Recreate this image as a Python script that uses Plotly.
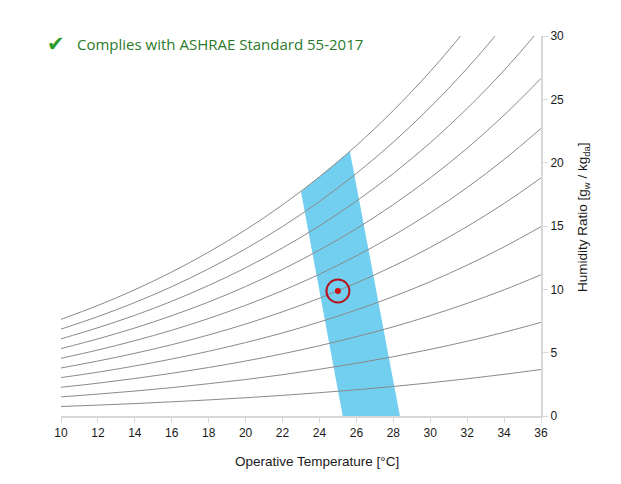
import plotly.graph_objects as go

# Operative temperature grid for the relative-humidity curves (°C)
temps = [10, 12, 14, 16, 18, 20, 22, 24, 26, 28, 30, 32, 34, 36]

# Humidity ratio (g/kg) along each relative-humidity curve
rh10 = [0.75, 0.86, 0.98, 1.12, 1.27, 1.44, 1.63, 1.84, 2.07, 2.33, 2.62, 2.94, 3.29, 3.67]
rh20 = [1.51, 1.73, 1.97, 2.24, 2.55, 2.88, 3.26, 3.69, 4.16, 4.68, 5.26, 5.90, 6.61, 7.39]
rh30 = [2.27, 2.59, 2.96, 3.37, 3.83, 4.34, 4.91, 5.55, 6.26, 7.04, 7.92, 8.89, 9.96, 11.15]
rh40 = [3.03, 3.46, 3.95, 4.50, 5.11, 5.80, 6.56, 7.42, 8.37, 9.43, 10.60, 11.91, 13.35, 14.95]
rh50 = [3.79, 4.34, 4.95, 5.63, 6.40, 7.26, 8.23, 9.30, 10.50, 11.83, 13.31, 14.96, 16.78, 18.80]
rh60 = [4.56, 5.21, 5.95, 6.77, 7.70, 8.74, 9.90, 11.19, 12.64, 14.25, 16.04, 18.04, 20.25, 22.70]
rh70 = [5.32, 6.09, 6.95, 7.92, 9.00, 10.22, 11.58, 13.10, 14.79, 16.69, 18.80, 21.14, 23.75, 26.65]
rh80 = [6.09, 6.97, 7.95, 9.06, 10.31, 11.70, 13.27, 15.01, 16.97, 19.14, 21.57, 24.28, 27.29, 30.64]
rh90 = [6.86, 7.85, 8.96, 10.21, 11.62, 13.20, 14.96, 16.94, 19.15, 21.62, 24.38, 27.45, 30.87, 34.70]
rh100 = [7.63, 8.73, 9.97, 11.37, 12.94, 14.70, 16.67, 18.88, 21.35, 24.12, 27.20, 30.65, 34.50, 38.80]
rh_curves = [rh10, rh20, rh30, rh40, rh50, rh60, rh70, rh80, rh90, rh100]

# Comfort zone polygon (operative temperature °C, humidity ratio g/kg)
zone_t = [23.0, 24.0, 25.0, 25.65, 28.36, 25.26]
zone_w = [17.71, 18.88, 20.08, 20.88, 0.0, 0.0]

# Current condition
point_t = [25.0]
point_w = [9.87]

x_ticks = [10, 12, 14, 16, 18, 20, 22, 24, 26, 28, 30, 32, 34, 36]
y_ticks = [0, 5, 10, 15, 20, 25, 30]

W, H = 621, 484
ML, MR, MT, MB = 53, 88, 28, 76

fig = go.Figure()

fig.add_trace(go.Scatter(
    x=zone_t, y=zone_w, fill="toself", mode="lines",
    line=dict(width=0, color="#73cff0"), fillcolor="#73cff0",
    hoverinfo="skip", showlegend=False))

for c in rh_curves:
    fig.add_trace(go.Scatter(
        x=temps, y=c, mode="lines", line=dict(color="#8a8a8a", width=1, shape="spline"),
        hoverinfo="skip", showlegend=False))

fig.add_trace(go.Scatter(
    x=point_t, y=point_w, mode="markers",
    marker=dict(size=23, color="rgba(0,0,0,0)", line=dict(color="#b5121b", width=2)),
    showlegend=False))
fig.add_trace(go.Scatter(
    x=point_t, y=point_w, mode="markers",
    marker=dict(size=6, color="#cc1111"),
    showlegend=False))

axis_font = dict(family="Liberation Sans, Arial, sans-serif", size=12, color="#1a1a1a")
title_font = dict(family="Liberation Sans, Arial, sans-serif", size=13.5, color="#1a1a1a")

fig.update_layout(
    width=W, height=H,
    margin=dict(l=ML, r=MR, t=MT, b=MB),
    paper_bgcolor="white", plot_bgcolor="white",
    showlegend=False,
    xaxis=dict(
        range=[10, 36], tickvals=x_ticks, showgrid=False, zeroline=False,
        showline=True, linecolor="#d8d8d8", linewidth=2,
        ticks="outside", ticklen=5, tickcolor="#d8d8d8", tickwidth=1,
        tickfont=axis_font,
    ),
    yaxis=dict(
        range=[0, 30], tickvals=y_ticks, side="right", showgrid=False, zeroline=False,
        showline=True, linecolor="#d8d8d8", linewidth=2,
        ticks="outside", ticklen=5, tickcolor="#d8d8d8", tickwidth=1,
        tickfont=axis_font,
    ),
)

# annotation positions given in figure pixels, converted to paper coordinates
pw, ph = W - ML - MR, H - MT - MB
def px(xp): return (xp - ML) / pw
def py(yp): return (H - MB - yp) / ph

fig.add_annotation(text="Operative Temperature [°C]", x=px(309), y=py(453),
                   xref="paper", yref="paper", xanchor="center", yanchor="middle",
                   showarrow=False, font=title_font)
fig.add_annotation(text="Humidity Ratio [g<sub>w</sub> / kg<sub>da</sub>]", x=px(575), y=py(210),
                   xref="paper", yref="paper", xanchor="center", yanchor="middle",
                   textangle=-90, showarrow=False, font=title_font)

fig.add_annotation(text="✔", x=px(48), y=py(36), xref="paper", yref="paper",
                   xanchor="center", yanchor="middle", showarrow=False,
                   font=dict(size=21, color="#2a9a2a", family="DejaVu Sans"))
fig.add_annotation(text="Complies with ASHRAE Standard 55-2017", x=px(67), y=py(36),
                   xref="paper", yref="paper", xanchor="left", yanchor="middle", showarrow=False,
                   font=dict(size=15, color="#2b7a2b", family="Open Sans, Noto Sans, sans-serif"))

fig.write_html("out.html")
